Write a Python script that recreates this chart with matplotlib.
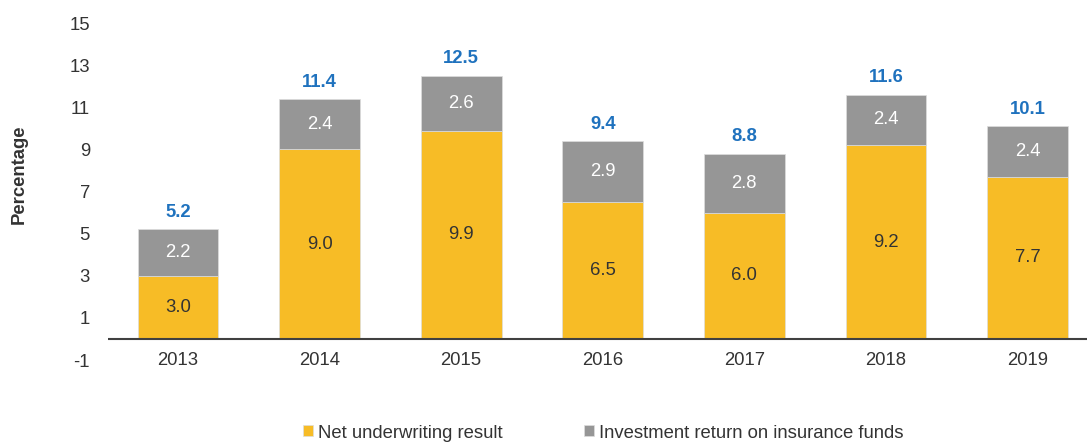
import matplotlib.pyplot as plt
import numpy as np

plt.rcParams['font.family'] = ['Liberation Sans', 'DejaVu Sans']
plt.rcParams['axes.unicode_minus'] = False

years = ['2013', '2014', '2015', '2016', '2017', '2018', '2019']
underwriting = [3.0, 9.0, 9.9, 6.5, 6.0, 9.2, 7.7]
investment = [2.2, 2.4, 2.6, 2.9, 2.8, 2.4, 2.4]
totals = [5.2, 11.4, 12.5, 9.4, 8.8, 11.6, 10.1]

yellow = '#F7BC26'
grey = '#969696'
blue = '#1F72BE'
txt = '#333333'
fs = 13.3

fig = plt.figure(figsize=(10.87, 4.44), dpi=100)
ax = fig.add_axes([0.0994, 0.189, 0.9006, 0.759])

x = np.arange(len(years))
w = 0.57
b1 = ax.bar(x, underwriting, w, color=yellow, edgecolor='#dddddd', linewidth=0.5,
            label='Net underwriting result')
b2 = ax.bar(x, investment, w, bottom=underwriting, color=grey, edgecolor='#dddddd',
            linewidth=0.5, label='Investment return on insurance funds')

# segment labels
for i in range(len(years)):
    ax.text(x[i], underwriting[i] / 2, f'{underwriting[i]:.1f}', ha='center', va='center',
            fontsize=fs, color=txt)
    ax.text(x[i], underwriting[i] + investment[i] / 2, f'{investment[i]:.1f}', ha='center',
            va='center', fontsize=fs, color='white')
    ax.annotate(f'{totals[i]:.1f}', (x[i], totals[i]), xytext=(0, 6),
                textcoords='offset points', ha='center', va='bottom',
                fontsize=fs, fontweight='bold', color=blue)

ax.set_ylim(-1, 15)
ax.set_yticks(range(-1, 16, 2))
ax.set_xlim(-0.494, 6.42)
ax.set_xticks(x)
ax.set_xticklabels(years)
ax.axhline(0, color='#404040', linewidth=1.5)

for s in ax.spines.values():
    s.set_visible(False)
ax.tick_params(axis='both', length=0, labelsize=fs, labelcolor=txt)
ax.tick_params(axis='y', pad=13)
ax.tick_params(axis='x', pad=-6)

ax.set_ylabel('Percentage', fontsize=fs, fontweight='bold', color=txt)
ax.yaxis.set_label_coords(-0.082, 0.552)

fig.legend(handles=[b1, b2], loc='center left', bbox_to_anchor=(303 / 1087, 1 - 433 / 444),
           ncol=2, frameon=False, fontsize=fs, handlelength=0.54, handleheight=0.54,
           handletextpad=0.27, columnspacing=4.4, borderpad=0, borderaxespad=0,
           labelcolor=txt)

fig.savefig('out.png', dpi=100)
